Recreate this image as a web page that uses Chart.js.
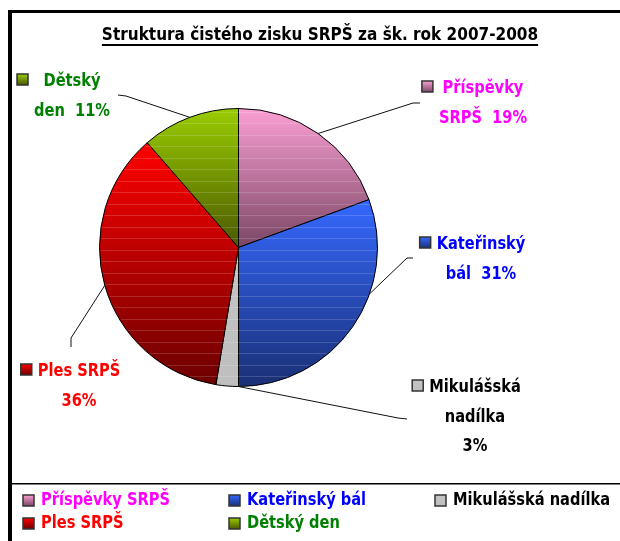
<!DOCTYPE html>
<html>
<head>
<meta charset="utf-8">
<script src="https://cdn.jsdelivr.net/npm/chart.js@4"></script>
<style>
  body { margin: 0; background: #fff; }
  canvas { display: block; }
</style>
</head>
<body>
<canvas id="pie_chart" width="620" height="541"></canvas>
<script>
// data
const chartTitle = 'Struktura čistého zisku SRPŠ za šk. rok 2007-2008';
const categories = ['Příspěvky SRPŠ', 'Kateřinský bál', 'Mikulášská nadílka', 'Ples SRPŠ', 'Dětský den'];
const shares = [19.4, 30.6, 2.6, 36.0, 11.4];
const shareLabels = ['19%', '31%', '3%', '36%', '11%'];
// words of the category on each label line; the share goes on the last line
const labelWords = [[1, 1], [1, 1], [1, 1, 0], [2, 0], [1, 1]];

// styles
const topColors = ['#FBA0D4', '#3568FF', '#C4C4C4', '#FF0000', '#9ACD00'];
const bottomColors = ['#7A4664', '#1A3075', '#BEBEBE', '#6C0000', '#4B5800'];
const textColors = ['#FF00FF', '#0000FF', '#000000', '#FF0000', '#008000'];

const FONT = 'bold 17px "DejaVu Sans", sans-serif';
const SX = 0.86;

function drawText(ctx, text, x, y, align, sx) {
  ctx.save();
  ctx.translate(x, y);
  ctx.scale(sx || SX, 1);
  ctx.textAlign = align || 'left';
  ctx.textBaseline = 'alphabetic';
  ctx.fillText(text, 0, 0);
  ctx.restore();
}
function textWidth(ctx, text, sx) {
  return ctx.measureText(text).width * (sx || SX);
}

function labelLines(i) {
  const words = categories[i].split(' ');
  const lines = [];
  let w = 0;
  labelWords[i].forEach((n, k) => {
    let line = words.slice(w, w + n).join(' ');
    w += n;
    if (k === labelWords[i].length - 1) line = line ? line + '  ' + shareLabels[i] : shareLabels[i];
    lines.push(line);
  });
  return lines;
}

function fillFor(ctx, i, y0, y1) {
  const g = ctx.createLinearGradient(0, y0, 0, y1);
  g.addColorStop(0, topColors[i]);
  g.addColorStop(1, bottomColors[i]);
  return g;
}

function sliceGradient(context) {
  const i = context.dataIndex;
  const chart = context.chart;
  const area = chart.chartArea;
  if (!area) return topColors[i];
  const cx = (area.left + area.right) / 2, cy = (area.top + area.bottom) / 2;
  const r = Math.min(area.right - area.left, area.bottom - area.top) / 2;
  const total = shares.reduce((a, b) => a + b, 0);
  let before = 0;
  for (let k = 0; k < i; k++) before += shares[k];
  const a0 = -Math.PI / 2 + before / total * 2 * Math.PI;
  const a1 = a0 + shares[i] / total * 2 * Math.PI;
  let yMin = cy, yMax = cy;
  for (let s = 0; s <= 60; s++) {
    const y = cy + r * Math.sin(a0 + (a1 - a0) * s / 60);
    yMin = Math.min(yMin, y);
    yMax = Math.max(yMax, y);
  }
  return fillFor(chart.ctx, i, yMin, yMax);
}

function keySquare(ctx, i, x, y) {
  ctx.fillStyle = fillFor(ctx, i, y, y + 11);
  ctx.fillRect(x, y, 11, 11);
  ctx.strokeStyle = '#333';
  ctx.lineWidth = 1.5;
  ctx.strokeRect(x, y, 11, 11);
}

// frame, title
const framePlugin = {
  id: 'frame',
  beforeDraw(chart) {
    const ctx = chart.ctx;
    ctx.save();
    ctx.fillStyle = '#fff';
    ctx.fillRect(0, 0, chart.width, chart.height);
    ctx.fillStyle = '#000';
    ctx.fillRect(8, 10, chart.width - 8, 3);
    ctx.fillRect(8, 10, 4, chart.height - 10);
    ctx.fillRect(12, 483, chart.width - 12, 1.5);

    ctx.font = FONT;
    ctx.fillStyle = '#000';
    drawText(ctx, chartTitle, 320, 40, 'center', 0.9);
    const w = textWidth(ctx, chartTitle, 0.9);
    ctx.fillRect(320 - w / 2, 44, w, 2);
    ctx.restore();
  }
};

// faint horizontal stripes seen on the slices
const stripePlugin = {
  id: 'stripes',
  afterDatasetsDraw(chart) {
    const arc = chart.getDatasetMeta(0).data[0];
    if (!arc) return;
    const { x, y, outerRadius } = arc.getProps(['x', 'y', 'outerRadius'], true);
    const ctx = chart.ctx;
    ctx.save();
    ctx.beginPath();
    ctx.arc(x, y, outerRadius - 1, 0, Math.PI * 2);
    ctx.clip();
    ctx.strokeStyle = 'rgba(255,255,255,0.16)';
    ctx.lineWidth = 1;
    for (let yy = y - outerRadius + 3; yy < y + outerRadius; yy += 11.5) {
      ctx.beginPath();
      ctx.moveTo(x - outerRadius, Math.round(yy) + 0.5);
      ctx.lineTo(x + outerRadius, Math.round(yy) + 0.5);
      ctx.stroke();
    }
    ctx.restore();
  }
};

// outside labels with leader lines
const calloutPlugin = {
  id: 'callouts',
  afterDatasetsDraw(chart, args, opts) {
    const ctx = chart.ctx;
    const arcs = chart.getDatasetMeta(0).data;
    ctx.save();
    ctx.font = FONT;
    arcs.forEach((arc, i) => {
      const lay = opts.layout[i];
      const p = arc.getProps(['x', 'y', 'startAngle', 'endAngle', 'outerRadius'], true);
      const mid = p.startAngle + (p.endAngle - p.startAngle) * lay.at;
      const sx = p.x + p.outerRadius * Math.cos(mid);
      const sy = p.y + p.outerRadius * Math.sin(mid);
      ctx.strokeStyle = '#111';
      ctx.lineWidth = 1;
      ctx.beginPath();
      ctx.moveTo(sx, sy);
      ctx.lineTo(lay.knee[0], lay.knee[1]);
      ctx.lineTo(lay.end[0], lay.end[1]);
      ctx.stroke();

      const lines = labelLines(i);
      const blockW = Math.max(...lines.map(t => textWidth(ctx, t)));
      ctx.fillStyle = textColors[i];
      lines.forEach((t, k) => drawText(ctx, t, lay.cx, lay.base + k * opts.lineGap, 'center'));
      keySquare(ctx, i, lay.cx - blockW / 2 - 17, lay.base - 12);
    });
    ctx.restore();
  }
};

// legend in a fixed grid below the separator
const legendPlugin = {
  id: 'gridLegend',
  afterDraw(chart, args, opts) {
    const ctx = chart.ctx;
    ctx.save();
    ctx.font = FONT;
    categories.forEach((name, i) => {
      const col = i % opts.columns.length;
      const row = Math.floor(i / opts.columns.length);
      const x = opts.columns[col];
      const base = opts.rows[row];
      keySquare(ctx, i, x, base - 10);
      ctx.fillStyle = textColors[i];
      drawText(ctx, name, x + 18, base, 'left');
    });
    ctx.restore();
  }
};

new Chart(document.getElementById('pie_chart'), {
  type: 'pie',
  data: {
    labels: categories,
    datasets: [{
      data: shares,
      backgroundColor: sliceGradient,
      borderColor: '#000',
      borderWidth: 1
    }]
  },
  options: {
    responsive: false,
    animation: false,
    events: [],
    layout: { padding: { left: 99, right: 242, top: 108, bottom: 154 } },
    plugins: {
      legend: { display: false },
      tooltip: { enabled: false },
      callouts: {
        lineGap: 29.5,
        // at: where along the slice's arc the leader line starts
        layout: [
          { at: 0.5, cx: 483, base: 93, knee: [413, 103], end: [420, 103] },
          { at: 0.36, cx: 481, base: 249, knee: [407, 258], end: [413, 258] },
          { at: 0.0, cx: 475, base: 392, knee: [398, 418], end: [407, 419] },
          { at: 0.5, cx: 79, base: 376, knee: [71, 338], end: [71, 347] },
          { at: 0.5, cx: 72, base: 86, knee: [126, 96], end: [118, 95] }
        ]
      },
      gridLegend: { columns: [23, 229, 435], rows: [505, 528] }
    }
  },
  plugins: [framePlugin, stripePlugin, calloutPlugin, legendPlugin]
});
</script>
</body>
</html>
